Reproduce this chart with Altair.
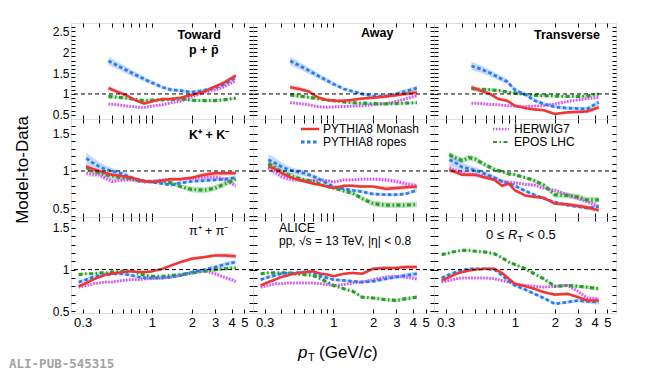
import altair as alt
import pandas as pd

FONT = "Liberation Sans"

MODELS = ["PYTHIA8 Monash", "PYTHIA8 ropes", "HERWIG7", "EPOS LHC"]
DRAW_ORDER = ["HERWIG7", "EPOS LHC", "PYTHIA8 ropes", "PYTHIA8 Monash"]
LINE_COLORS = ["#f03535", "#2a7af0", "#cf55ee", "#2b9b2b"]
BAND_COLORS = ["#f77a7a", "#6aa6f5", "#de9cf5", "#5cb85c"]
DASHES = [[1, 0], [3.5, 2.5], [1.5, 1.5], [4, 2.5, 1.5, 2.5]]
WIDTHS = [2.5, 3.2, 2.5, 2.2]

ROWS = ["p", "K", "pi"]
COLS = ["Toward", "Away", "Transverse"]

# pT bin centres (GeV/c)
pt_p = [0.47, 0.55, 0.65, 0.75, 0.87, 1.0, 1.2, 1.4, 1.65, 2.0, 2.5, 3.0, 3.5, 4.3]
pt_K = [0.32, 0.35, 0.4, 0.45, 0.5, 0.6, 0.7, 0.8, 0.9, 1.0, 1.2, 1.4, 1.65, 2.0, 2.5, 3.0, 3.5, 4.3]
pt_pi = [0.28, 0.32, 0.36, 0.4, 0.45, 0.5, 0.6, 0.7, 0.8, 0.9, 1.0, 1.2, 1.4, 1.65, 2.0, 2.5, 3.0, 3.5, 4.3]

# protons
p_toward_monash = [1.14, 1.05, 0.96, 0.85, 0.77, 0.82, 0.88, 0.88, 0.91, 0.98, 1.06, 1.18, 1.27, 1.44]
p_toward_ropes = [1.79, 1.68, 1.56, 1.46, 1.36, 1.27, 1.16, 1.10, 1.08, 1.04, 1.09, 1.15, 1.23, 1.40]
p_toward_herwig = [0.76, 0.74, 0.71, 0.69, 0.67, 0.71, 0.74, 0.79, 0.83, 0.93, 1.04, 1.10, 1.17, 1.32]
p_toward_epos = [0.94, 0.92, 0.90, 0.87, 0.84, 0.85, 0.86, 0.87, 0.88, 0.85, 0.84, 0.84, 0.86, 0.90]

p_away_monash = [1.16, 1.12, 1.06, 0.93, 0.86, 0.84, 0.84, 0.86, 0.89, 0.91, 0.94, 0.97, 1.00, 1.04]
p_away_ropes = [1.79, 1.68, 1.56, 1.45, 1.34, 1.24, 1.12, 1.06, 1.00, 0.95, 0.95, 1.00, 1.06, 1.14]
p_away_herwig = [0.79, 0.77, 0.74, 0.70, 0.68, 0.69, 0.70, 0.71, 0.72, 0.74, 0.77, 0.82, 0.88, 0.96]
p_away_epos = [0.98, 0.95, 0.92, 0.89, 0.86, 0.84, 0.81, 0.79, 0.78, 0.77, 0.76, 0.77, 0.78, 0.79]

p_trans_monash = [1.16, 1.08, 1.00, 0.88, 0.84, 0.72, 0.66, 0.63, 0.61, 0.52, 0.56, 0.57, 0.58, 0.68]
p_trans_ropes = [1.67, 1.60, 1.50, 1.40, 1.30, 1.10, 0.98, 0.85, 0.76, 0.69, 0.66, 0.65, 0.64, 0.80]
p_trans_herwig = [0.78, 0.77, 0.75, 0.74, 0.72, 0.71, 0.70, 0.71, 0.72, 0.76, 0.82, 0.86, 0.89, 0.92]
p_trans_epos = [1.13, 1.11, 1.10, 1.08, 1.05, 1.02, 0.99, 0.97, 0.96, 0.95, 0.94, 0.94, 0.95, 1.00]

# kaons
K_toward_monash = [1.06, 1.03, 1.00, 0.97, 0.95, 0.93, 0.91, 0.88, 0.86, 0.85, 0.87, 0.89, 0.89, 0.91, 0.95, 0.97, 0.97, 0.97]
K_toward_ropes = [1.17, 1.12, 1.06, 1.02, 1.00, 0.96, 0.91, 0.88, 0.86, 0.85, 0.83, 0.81, 0.84, 0.86, 0.87, 0.88, 0.89, 0.91]
K_toward_herwig = [0.97, 0.96, 0.95, 0.90, 0.86, 0.88, 0.88, 0.86, 0.85, 0.86, 0.88, 0.89, 0.89, 0.90, 0.91, 0.92, 0.89, 0.80]
K_toward_epos = [1.05, 1.01, 0.98, 0.95, 0.93, 0.91, 0.90, 0.87, 0.86, 0.86, 0.86, 0.84, 0.79, 0.75, 0.74, 0.77, 0.82, 0.89]

K_away_monash = [1.06, 1.04, 0.98, 0.93, 0.90, 0.86, 0.83, 0.81, 0.79, 0.77, 0.80, 0.80, 0.79, 0.79, 0.76, 0.77, 0.78, 0.79]
K_away_ropes = [1.15, 1.12, 1.06, 1.02, 1.00, 0.97, 0.93, 0.88, 0.83, 0.79, 0.76, 0.74, 0.72, 0.69, 0.68, 0.68, 0.69, 0.74]
K_away_herwig = [1.04, 1.00, 0.93, 0.90, 0.88, 0.87, 0.87, 0.88, 0.87, 0.85, 0.88, 0.88, 0.89, 0.89, 0.88, 0.86, 0.83, 0.80]
K_away_epos = [1.10, 1.06, 0.99, 0.95, 0.92, 0.88, 0.86, 0.82, 0.79, 0.77, 0.73, 0.70, 0.63, 0.56, 0.54, 0.54, 0.54, 0.55]

K_trans_monash = [1.01, 0.99, 0.95, 0.95, 0.95, 0.91, 0.88, 0.80, 0.83, 0.74, 0.67, 0.65, 0.64, 0.56, 0.55, 0.53, 0.51, 0.47]
K_trans_ropes = [1.15, 1.12, 1.05, 1.03, 1.01, 0.96, 0.91, 0.86, 0.83, 0.80, 0.73, 0.68, 0.63, 0.58, 0.54, 0.52, 0.50, 0.52]
K_trans_herwig = [1.04, 1.01, 0.97, 0.95, 0.95, 0.92, 0.89, 0.86, 0.85, 0.84, 0.82, 0.81, 0.77, 0.74, 0.68, 0.63, 0.59, 0.52]
K_trans_epos = [1.22, 1.18, 1.14, 1.18, 1.16, 1.08, 1.02, 0.99, 0.96, 0.95, 0.91, 0.87, 0.81, 0.68, 0.67, 0.65, 0.61, 0.61]

# pions
pi_toward_monash = [0.80, 0.84, 0.88, 0.91, 0.94, 0.95, 0.97, 0.98, 0.97, 0.97, 0.98, 1.01, 1.05, 1.09, 1.13, 1.15, 1.17, 1.17, 1.16]
pi_toward_ropes = [0.85, 0.88, 0.91, 0.93, 0.94, 0.95, 0.95, 0.93, 0.91, 0.90, 0.90, 0.90, 0.91, 0.93, 0.97, 1.00, 1.03, 1.06, 1.09]
pi_toward_herwig = [0.79, 0.81, 0.83, 0.84, 0.85, 0.85, 0.87, 0.88, 0.88, 0.89, 0.89, 0.90, 0.91, 0.93, 0.96, 0.99, 0.95, 0.91, 0.86]
pi_toward_epos = [0.94, 0.95, 0.95, 0.96, 0.96, 0.97, 0.98, 0.99, 0.95, 0.93, 0.92, 0.92, 0.93, 0.94, 0.96, 0.98, 1.00, 1.01, 1.02]

pi_away_monash = [0.81, 0.85, 0.88, 0.91, 0.93, 0.95, 0.97, 0.98, 0.95, 0.94, 0.92, 0.95, 0.96, 0.95, 1.01, 1.02, 1.02, 1.03, 1.03]
pi_away_ropes = [0.88, 0.91, 0.93, 0.95, 0.96, 0.96, 0.97, 0.97, 0.92, 0.90, 0.88, 0.87, 0.86, 0.85, 0.86, 0.89, 0.91, 0.93, 0.95]
pi_away_herwig = [0.79, 0.81, 0.83, 0.83, 0.84, 0.84, 0.84, 0.84, 0.83, 0.82, 0.81, 0.82, 0.84, 0.85, 0.88, 0.91, 0.92, 0.91, 0.89]
pi_away_epos = [0.95, 0.96, 0.96, 0.96, 0.96, 0.95, 0.94, 0.93, 0.89, 0.85, 0.81, 0.77, 0.74, 0.67, 0.66, 0.64, 0.63, 0.65, 0.67]

pi_trans_monash = [0.87, 0.91, 0.95, 0.97, 0.99, 1.00, 1.01, 1.01, 0.96, 0.89, 0.83, 0.80, 0.77, 0.73, 0.70, 0.71, 0.67, 0.63, 0.63]
pi_trans_ropes = [0.90, 0.94, 0.97, 0.99, 1.01, 1.01, 1.01, 1.00, 0.93, 0.86, 0.81, 0.76, 0.71, 0.66, 0.59, 0.61, 0.63, 0.62, 0.61]
pi_trans_herwig = [0.85, 0.87, 0.89, 0.90, 0.90, 0.90, 0.90, 0.89, 0.87, 0.85, 0.83, 0.81, 0.80, 0.79, 0.80, 0.81, 0.74, 0.66, 0.65]
pi_trans_epos = [1.18, 1.20, 1.22, 1.23, 1.23, 1.22, 1.21, 1.19, 1.14, 1.09, 1.06, 1.01, 0.95, 0.89, 0.80, 0.81, 0.80, 0.79, 0.77]

# band half-widths (model uncertainty)
e_p_monash = [0.06, 0.05, 0.04, 0.04, 0.03, 0.03, 0.03, 0.03, 0.03, 0.03, 0.04, 0.04, 0.05, 0.06]
e_p_ropes = [0.10, 0.09, 0.08, 0.07, 0.06, 0.05, 0.04, 0.04, 0.04, 0.04, 0.04, 0.05, 0.05, 0.06]
e_p_herwig = [0.03, 0.03, 0.03, 0.03, 0.03, 0.03, 0.03, 0.03, 0.03, 0.03, 0.03, 0.03, 0.04, 0.04]
e_p_epos = [0.05, 0.04, 0.04, 0.03, 0.03, 0.03, 0.03, 0.03, 0.03, 0.03, 0.03, 0.03, 0.03, 0.03]

e_K_monash = [0.03, 0.03, 0.02, 0.02, 0.02, 0.02, 0.02, 0.02, 0.02, 0.02, 0.02, 0.02, 0.02, 0.02, 0.03, 0.03, 0.03, 0.03]
e_K_ropes = [0.08, 0.07, 0.06, 0.05, 0.04, 0.04, 0.03, 0.03, 0.02, 0.02, 0.02, 0.02, 0.02, 0.02, 0.02, 0.02, 0.02, 0.03]
e_K_herwig = [0.04, 0.04, 0.04, 0.04, 0.03, 0.03, 0.03, 0.02, 0.02, 0.02, 0.02, 0.02, 0.02, 0.02, 0.03, 0.03, 0.03, 0.03]
e_K_epos = [0.04, 0.04, 0.04, 0.04, 0.04, 0.03, 0.03, 0.02, 0.02, 0.02, 0.02, 0.03, 0.03, 0.04, 0.04, 0.04, 0.04, 0.04]

e_pi_monash = [0.02, 0.02, 0.015, 0.015, 0.015, 0.015, 0.015, 0.015, 0.015, 0.015, 0.015, 0.015, 0.015, 0.015, 0.02, 0.02, 0.02, 0.025, 0.03]
e_pi_ropes = [0.02, 0.02, 0.02, 0.015, 0.015, 0.015, 0.015, 0.015, 0.015, 0.015, 0.015, 0.015, 0.015, 0.015, 0.015, 0.02, 0.02, 0.025, 0.03]
e_pi_herwig = [0.015, 0.015, 0.015, 0.015, 0.015, 0.015, 0.015, 0.015, 0.015, 0.015, 0.015, 0.015, 0.015, 0.015, 0.015, 0.02, 0.02, 0.02, 0.025]
e_pi_epos = [0.01, 0.01, 0.01, 0.01, 0.01, 0.01, 0.01, 0.01, 0.01, 0.01, 0.01, 0.01, 0.01, 0.015, 0.015, 0.015, 0.02, 0.02, 0.02]

PT = {"p": pt_p, "K": pt_K, "pi": pt_pi}
VALUES = {
    ("p", "Toward"): [p_toward_monash, p_toward_ropes, p_toward_herwig, p_toward_epos],
    ("p", "Away"): [p_away_monash, p_away_ropes, p_away_herwig, p_away_epos],
    ("p", "Transverse"): [p_trans_monash, p_trans_ropes, p_trans_herwig, p_trans_epos],
    ("K", "Toward"): [K_toward_monash, K_toward_ropes, K_toward_herwig, K_toward_epos],
    ("K", "Away"): [K_away_monash, K_away_ropes, K_away_herwig, K_away_epos],
    ("K", "Transverse"): [K_trans_monash, K_trans_ropes, K_trans_herwig, K_trans_epos],
    ("pi", "Toward"): [pi_toward_monash, pi_toward_ropes, pi_toward_herwig, pi_toward_epos],
    ("pi", "Away"): [pi_away_monash, pi_away_ropes, pi_away_herwig, pi_away_epos],
    ("pi", "Transverse"): [pi_trans_monash, pi_trans_ropes, pi_trans_herwig, pi_trans_epos],
}
ERRS = {
    "p": [e_p_monash, e_p_ropes, e_p_herwig, e_p_epos],
    "K": [e_K_monash, e_K_ropes, e_K_herwig, e_K_epos],
    "pi": [e_pi_monash, e_pi_ropes, e_pi_herwig, e_pi_epos],
}

X_DOMAIN = [0.245, 5.8]
X_TICKS = [0.3, 0.4, 0.5, 0.6, 0.7, 0.8, 0.9, 1, 2, 3, 4, 5]
X_LABELED = [0.3, 1, 2, 3, 4, 5]
Y_DOMAINS = [[0.4, 2.7], [0.38, 1.7], [0.48, 1.63]]
Y_TICKS = [
    [round(0.4 + 0.1 * i, 1) for i in range(23)],
    [round(0.4 + 0.1 * i, 1) for i in range(13)],
    [round(0.5 + 0.1 * i, 1) for i in range(12)],
]
Y_LABELED = [[0.5, 1, 1.5, 2, 2.5], [0.5, 1, 1.5], [0.5, 1, 1.5]]

COL_W = [182, 181, 182]
ROW_H = [96, 98, 96]
TICK = 4

ONE = pd.DataFrame({"one": [1.0]})
DUMMY = pd.DataFrame({"d": [0]})


def make_df(r, c):
    rows = []
    pts = PT[r]
    vals = VALUES[(r, c)]
    errs = ERRS[r]
    for m in DRAW_ORDER:
        i = MODELS.index(m)
        for pt, v, e in zip(pts, vals[i], errs[i]):
            rows.append({"model": m, "pt": pt, "val": v, "lo": v - e, "hi": v + e})
    return pd.DataFrame(rows)


def label_expr(vals):
    arr = ",".join(str(v) for v in vals)
    return f"indexof([{arr}], datum.value) >= 0 ? format(datum.value, '~g') : ''"


def x_axis(orient, labels):
    return alt.Axis(orient=orient, values=X_TICKS, labels=labels, labelExpr=label_expr(X_LABELED),
                    tickSize=TICK, offset=-TICK, domain=False, grid=False, title=None,
                    labelPadding=3, labelFont=FONT, labelFontSize=13, labelColor="black",
                    tickColor="black", labelFlush=False, labelOverlap=False, labelBound=False)


def y_axis(ri, orient, labels):
    return alt.Axis(orient=orient, values=Y_TICKS[ri], labels=labels, labelExpr=label_expr(Y_LABELED[ri]),
                    tickSize=TICK, offset=-TICK, domain=False, grid=False, title=None,
                    labelPadding=2, labelFont=FONT, labelFontSize=12, labelColor="black",
                    tickColor="black", labelFlush=False, labelOverlap=False, labelBound=False)


def txt(s, x, y, size=12.5, weight="normal", style="normal", align="left", color="black",
        font=FONT, angle=0):
    kw = dict(text=s, fontSize=size, fontWeight=weight, fontStyle=style, align=align,
              baseline="middle", color=color, font=font)
    if angle:
        kw["angle"] = angle
    return alt.Chart(DUMMY).mark_text(**kw).encode(x=alt.value(x), y=alt.value(y))


def legend_entry(i, x0, x1, y, tx):
    sample = alt.Chart(DUMMY).mark_rule(color=LINE_COLORS[i], strokeDash=DASHES[i],
                                        strokeWidth=WIDTHS[i]).encode(
        x=alt.value(x0), x2=alt.value(x1), y=alt.value(y))
    return [sample, txt(MODELS[i], tx, y, size=12)]


ANNOT = {
    (0, 0): [txt("Toward", 150, 12, weight="bold", align="right"),
             txt("p + p\u0304", 118, 27, weight="bold")],
    (0, 1): [txt("Away", 108, 10, weight="bold")],
    (0, 2): [txt("Transverse", 100, 12, weight="bold")],
    (1, 0): [txt("K\u207a + K\u207b", 118, 16, size=12.5, weight="bold"),
             txt("Model-to-Data", -48, 51, size=17, align="center", angle=270)],
    (1, 1): legend_entry(0, 48, 66, 10, 70) + legend_entry(1, 48, 66, 23, 70),
    (1, 2): legend_entry(2, 59, 75, 10, 80) + legend_entry(3, 59, 75, 23, 80),
    (2, 0): [txt("\u03c0\u207a + \u03c0\u207b", 118, 14, size=12.5),
             txt("ALI-PUB-545315", -62, 147, size=12.5, weight="bold", color="#a3a3a3",
                 font="DejaVu Sans Mono")],
    (2, 1): [txt("ALICE", 26, 11, size=12.5),
             txt("pp, \u221as = 13 TeV, |\u03b7| < 0.8", 26, 24, size=12),
             txt("p", 45, 136, size=17, style="italic"),
             txt("T", 55, 141, size=11),
             txt("(GeV/", 66, 136, size=17),
             txt("c", 110.4, 136, size=17, style="italic"),
             txt(")", 119, 136, size=17)],
    (2, 2): [txt("0 \u2264", 52, 18, size=13),
             txt("R", 74, 18, size=13, style="italic"),
             txt("T", 83.4, 22, size=9),
             txt("< 0.5", 92.5, 18, size=13)],
}


def panel(ri, ci):
    r, c = ROWS[ri], COLS[ci]
    df = make_df(r, c)
    xs = alt.Scale(type="log", domain=X_DOMAIN, nice=False)
    ys = alt.Scale(domain=Y_DOMAINS[ri], nice=False, zero=False)
    xa = x_axis("bottom", ri == 2)
    ya = y_axis(ri, "left", ci == 0)
    base = alt.Chart(df)
    band = base.mark_area(clip=True, fillOpacity=0.4).encode(
        x=alt.X("pt:Q", scale=xs, axis=xa),
        y=alt.Y("lo:Q", scale=ys, axis=ya),
        y2="hi:Q",
        fill=alt.Fill("model:N", scale=alt.Scale(domain=MODELS, range=BAND_COLORS), legend=None),
        detail="model:N",
    )
    line = base.mark_line(clip=True).encode(
        x=alt.X("pt:Q", scale=xs, axis=xa),
        y=alt.Y("val:Q", scale=ys, axis=ya),
        stroke=alt.Stroke("model:N", scale=alt.Scale(domain=MODELS, range=LINE_COLORS), legend=None),
        strokeDash=alt.StrokeDash("model:N", scale=alt.Scale(domain=MODELS, range=DASHES), legend=None),
        strokeWidth=alt.StrokeWidth("model:N", scale=alt.Scale(domain=MODELS, range=WIDTHS), legend=None),
        detail="model:N",
    )
    unity = alt.Chart(ONE).mark_rule(strokeDash=[4, 3], color="black", strokeWidth=1).encode(
        y=alt.Y("one:Q", scale=ys, axis=ya)
    )
    inner = alt.layer(band, line, unity, *ANNOT.get((ri, ci), []))
    mirror = base.mark_point(opacity=0).encode(
        x=alt.X("pt:Q", scale=xs, axis=x_axis("top", False)),
        y=alt.Y("val:Q", scale=ys, axis=y_axis(ri, "right", False)),
    )
    return alt.layer(inner, mirror).resolve_scale(x="independent", y="independent").properties(
        width=COL_W[ci], height=ROW_H[ri]
    )


panels = [panel(ri, ci) for ri in range(3) for ci in range(3)]

chart = alt.concat(*panels, columns=3, spacing=0, bounds="flush").properties(
    padding={"left": 0, "top": 12, "right": 5, "bottom": 0}
).configure_view(stroke="black", strokeWidth=1.2).configure(font=FONT, background="white")

chart.save("out.html", embed_options={"renderer": "svg", "actions": False})
